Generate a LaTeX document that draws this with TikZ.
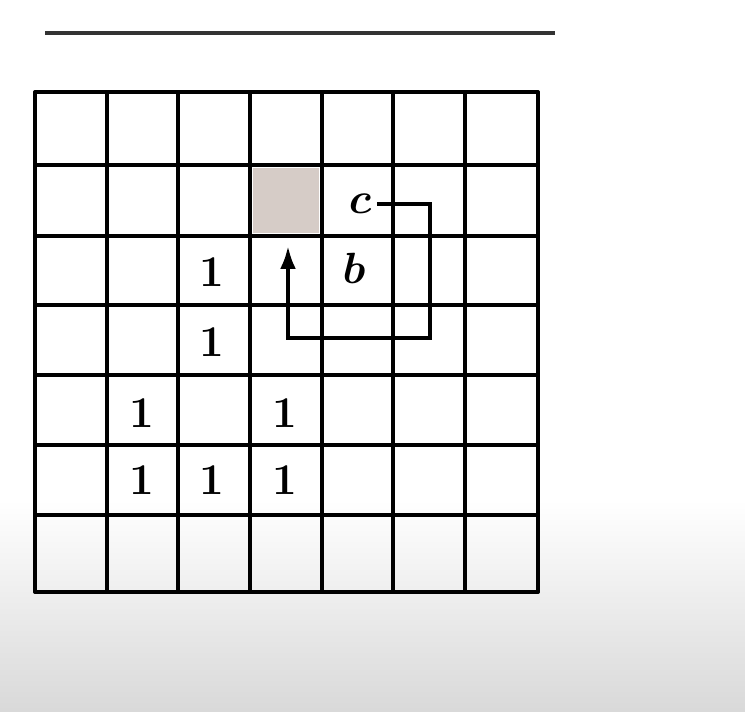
\documentclass[tikz,border=0pt]{standalone}
\usetikzlibrary{arrows.meta, positioning}
\begin{document}
\begin{tikzpicture}[x=0.02cm, y=-0.02cm,
		grid/.style={line width=2pt, line cap=round},
		route/.style={line width=2.2pt, -{Latex[length=13pt, width=9pt]}},
		lab/.style={inner sep=3pt, font=\fontsize{30}{32}\selectfont\boldmath},
		one/.style={inner sep=0pt, font=\fontsize{25}{27}\selectfont\bfseries}]

		% page and its grey bottom
		\useasboundingbox (0,0) rectangle (745,712);
		\fill[white] (0,0) rectangle (745,712);
		\shade[top color=white, bottom color=black!15] (0,500) rectangle (745,712);

		% rule at the top
		\draw[line width=1.8pt, black!80] (45,33) -- (555,33);

		% shaded cell
		\fill[fill={rgb,255:red,214;green,204;blue,199}] (253,168) rectangle (319,233);

		% the grid
		\foreach \x in {35,107,178,250,322,393,465,538}
			\draw[grid] (\x,92) -- (\x,592);
		\foreach \y in {92,165,236,305,375,445,515,592}
			\draw[grid] (35,\y) -- (538,\y);

		% marked cells
		\node[one] (m1) at (212,272) {1};
		\node[one] (m2) at (212,342) {1};
		\node[one] (m3) at (142,413) {1};
		\node[one] (m4) at (285,413) {1};
		\node[one] (m5) at (142,480) {1};
		\node[one] (m6) at (212,480) {1};
		\node[one] (m7) at (285,480) {1};

		\node[lab] (c) at (360,204) {$c$};
		\node[lab] (b) at (354,268) {$b$};

		\coordinate (tip) at (288,246);
		\draw[route] (c.east) -| (430,338) -| (tip);
\end{tikzpicture}
\end{document}
